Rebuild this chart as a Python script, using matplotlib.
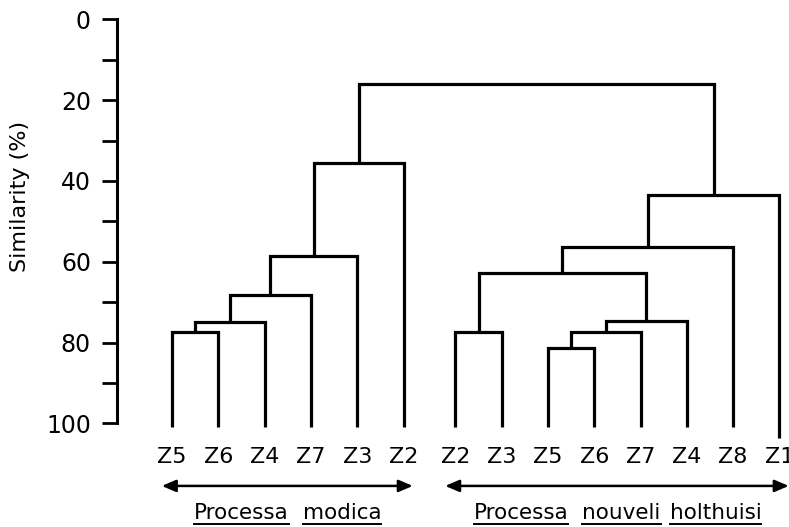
import matplotlib
matplotlib.use("Agg")
import matplotlib.pyplot as plt
from matplotlib.lines import Line2D

# ---------------- data ----------------
left_leaves = ["Z5", "Z6", "Z4", "Z7", "Z3", "Z2"]
right_leaves = ["Z2", "Z3", "Z5", "Z6", "Z7", "Z4", "Z8", "Z1"]
# lower end of every leaf line (similarity %), left group then right group
leaf_ends = [101.0, 101.0, 101.0, 101.0, 101.0, 101.0,
             101.0, 101.0, 101.0, 101.0, 101.0, 101.0, 101.0, 103.6]
# merges: (child a, child b, similarity %); leaves are 0..13, new clusters 14..
merges = [
    (0, 1, 77.4),    # 14  Z5+Z6 (modica)
    (14, 2, 74.9),   # 15  +Z4
    (15, 3, 68.2),   # 16  +Z7
    (16, 4, 58.5),   # 17  +Z3
    (17, 5, 35.5),   # 18  +Z2
    (6, 7, 77.4),    # 19  Z2+Z3 (nouveli holthuisi)
    (8, 9, 81.4),    # 20  Z5+Z6
    (20, 10, 77.4),  # 21  +Z7
    (21, 11, 74.7),  # 22  +Z4
    (19, 22, 62.8),  # 23
    (23, 12, 56.4),  # 24  +Z8
    (24, 13, 43.5),  # 25  +Z1
    (18, 25, 15.9),  # 26  root
]
group_words = [["Processa", "modica"], ["Processa", "nouveli", "holthuisi"]]
word_gaps = [[14], [14, 9]]
ytick_values = [0, 10, 20, 30, 40, 50, 60, 70, 80, 90, 100]
ytick_labels = ["0", "", "20", "", "40", "", "60", "", "80", "", "100"]
ylabel = "Similarity (%)"

# ---------------- layout ----------------
W, H = 789, 527
fig = plt.figure(figsize=(W / 100, H / 100), dpi=100)
y_top_px, y_bot_px = 19.3, 423.3
ax = fig.add_axes([117 / W, (H - y_bot_px) / H, (W - 117) / W, (y_bot_px - y_top_px) / H])
unit = 46.3
ax.set_xlim((117 - 172) / unit, (W - 172) / unit)
ax.set_ylim(100, 0)

gap = 1.12
pos = [float(i) for i in range(len(left_leaves))] + \
      [len(left_leaves) - 1 + gap + j for j in range(len(right_leaves))]

for s in ["top", "right", "bottom"]:
    ax.spines[s].set_visible(False)
ax.spines["left"].set_bounds(0, 100)
ax.spines["left"].set_linewidth(2.2)
ax.set_xticks([])
ax.set_yticks(ytick_values)
ax.set_yticklabels(ytick_labels, fontsize=17)
ax.tick_params(axis="y", direction="out", length=10.8, width=2.0, pad=8.0)

lw = 2.3
xs = list(pos)
ys = list(leaf_ends)
for a, b, h in merges:
    ax.plot([xs[a], xs[a], xs[b], xs[b]], [ys[a], h, h, ys[b]], color="black",
            lw=lw, solid_joinstyle="miter", solid_capstyle="butt", clip_on=False)
    xs.append((xs[a] + xs[b]) / 2)
    ys.append(h)

labels = left_leaves + right_leaves
for x, lab in zip(pos, labels):
    ax.text(x, 108.3, lab, ha="center", va="center", fontsize=16, clip_on=False)

groups = [pos[:len(left_leaves)], pos[len(left_leaves):]]
arrow_y = 115.5
for g in groups:
    ax.annotate("", xy=(g[0] - 0.22, arrow_y), xytext=(g[-1] + 0.2, arrow_y),
                xycoords="data", textcoords="data", annotation_clip=False,
                arrowprops=dict(arrowstyle="<|-|>,head_length=0.7,head_width=0.3",
                                color="black", lw=1.8, shrinkA=0, shrinkB=0,
                                mutation_scale=12))

fig.text(20 / W, 1 - 196 / H, ylabel, rotation=90, ha="center", va="center", fontsize=16)

# group names, each word underlined
renderer = fig.canvas.get_renderer()
baseline_y = 123.7
under_y = 125.0
inv = ax.transData.inverted()
for g, words, gaps in zip(groups, group_words, word_gaps):
    texts = [ax.text(0, baseline_y, w, ha="left", va="baseline", fontsize=15.5,
                     clip_on=False) for w in words]
    widths = [t.get_window_extent(renderer).width for t in texts]
    total = sum(widths) + sum(gaps)
    cx = ax.transData.transform((sum(g) / len(g), 0))[0]
    x0 = cx - total / 2
    for i, (t, wdt) in enumerate(zip(texts, widths)):
        xd0 = inv.transform((x0, 0))[0]
        xd1 = inv.transform((x0 + wdt, 0))[0]
        t.set_x(xd0)
        ax.add_line(Line2D([xd0, xd1], [under_y, under_y], color="black", lw=1.4,
                           clip_on=False))
        if i < len(gaps):
            x0 += wdt + gaps[i]

fig.savefig("out.png", dpi=100, facecolor="white")
